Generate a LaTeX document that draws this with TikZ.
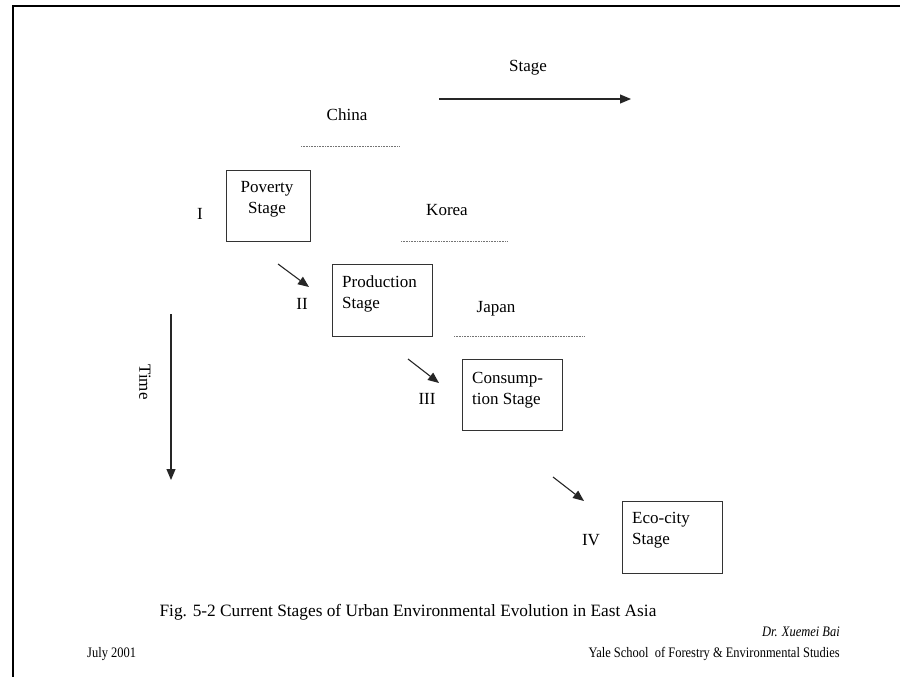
\documentclass[tikz,border=0pt]{standalone}
\usepackage{fontspec}
\setmainfont{Liberation Serif}
\newfontfamily\footfont[FakeStretch=0.86]{Liberation Serif}
\usetikzlibrary{arrows.meta}
\begin{document}
\begin{tikzpicture}[x=1pt,y=-1pt,
  stagebox/.style={draw=black!80, line width=1.2pt, inner sep=0pt, anchor=north west},
  lbl/.style={inner sep=0pt, font=\fontsize{17}{21}\selectfont},
  capstyle/.style={inner sep=0pt, font=\fontsize{17.3}{21}\selectfont},
  foot/.style={inner sep=0pt, font=\footfont\fontsize{14.5}{18}\selectfont},
  footit/.style={inner sep=0pt, font=\footfont\fontsize{14.5}{18}\selectfont\itshape},
  arr/.style={draw=black!85, line width=1.1pt, -{Triangle[length=11pt,width=9pt]}},
  dotline/.style={draw=black!55, line width=0.8pt, dash pattern=on 0.8pt off 0.8pt},
  frame/.style={draw=black, line width=2pt}]
\useasboundingbox (0,0) rectangle (900,677);
% frame
\coordinate (fbl) at (12.5,678);
\coordinate (ftl) at (12.5,6.5);
\coordinate (ftr) at (901,6.5);
\draw[frame] (fbl) -- (ftl) -- (ftr);

% Stage axis
\node[lbl, anchor=base] (stagelbl) at (528,72) {Stage};
\coordinate (sa) at (439,99);
\coordinate (sb) at (631,99);
\draw[arr] (sa) -- (sb);

% Time axis
\coordinate (ta) at (171,314);
\coordinate (tb) at (171,480);
\draw[arr] (ta) -- (tb);
\node[lbl, rotate=-90] (timelbl) at (145,382) {Time};

% countries
\node[lbl, anchor=base] (china) at (347,120) {China};
\coordinate (c1) at (301,146);
\coordinate (c2) at (400,146);
\draw[dotline] (c1) -- (c2);
\node[lbl, anchor=base] (korea) at (447,215) {Korea};
\coordinate (k1) at (401,241);
\coordinate (k2) at (507,241);
\draw[dotline] (k1) -- (k2);
\node[lbl, anchor=base] (japan) at (496,312) {Japan};
\coordinate (j1) at (454,336);
\coordinate (j2) at (585,336);
\draw[dotline] (j1) -- (j2);

% boxes
\node[stagebox, minimum width=84pt, minimum height=71pt] (pov) at (225.5,170) {};
\node[lbl, anchor=base] (povt1) at (267,192) {Poverty};
\node[lbl, anchor=base] (povt2) at (267,213) {Stage};
\node[lbl, anchor=base] (r1) at (200,219) {I};

\node[stagebox, minimum width=100pt, minimum height=72pt] (prod) at (332,264) {};
\node[lbl, anchor=base west] (prodt1) at (342,287) {Production};
\node[lbl, anchor=base west] (prodt2) at (342,308) {Stage};
\node[lbl, anchor=base] (r2) at (302,309) {II};

\node[stagebox, minimum width=100pt, minimum height=71pt] (cons) at (462,359) {};
\node[lbl, anchor=base west] (const1) at (472,383) {Consump-};
\node[lbl, anchor=base west] (const2) at (472,404) {tion Stage};
\node[lbl, anchor=base] (r3) at (427,404) {III};

\node[stagebox, minimum width=100pt, minimum height=72pt] (eco) at (622,501) {};
\node[lbl, anchor=base west] (ecot1) at (632,523) {Eco-city};
\node[lbl, anchor=base west] (ecot2) at (632,544) {Stage};
\node[lbl, anchor=base] (r4) at (591,545) {IV};

% transition arrows
\coordinate (a1s) at (278,264);
\coordinate (a1e) at (309,287);
\draw[arr] (a1s) -- (a1e);
\coordinate (a2s) at (408,359);
\coordinate (a2e) at (439,383);
\draw[arr] (a2s) -- (a2e);
\coordinate (a3s) at (553,477);
\coordinate (a3e) at (584,501);
\draw[arr] (a3s) -- (a3e);

% caption and footer
\node[capstyle, anchor=base] (cap) at (408,616) {Fig. 5-2 Current Stages of Urban Environmental Evolution in East Asia};
\node[footit, anchor=base east] (auth) at (840,636) {Dr. Xuemei Bai};
\node[foot, anchor=base east] (inst) at (840,657) {Yale School\ \ of Forestry \& Environmental Studies};
\node[foot, anchor=base west] (date) at (87,657) {July 2001};
\end{tikzpicture}
\end{document}
